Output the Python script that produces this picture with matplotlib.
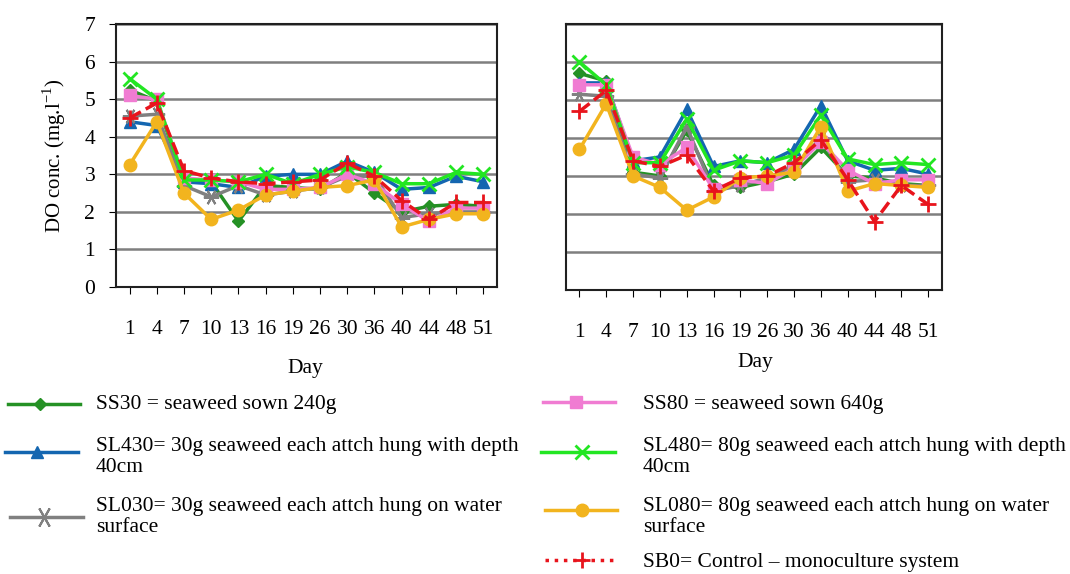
import matplotlib.pyplot as plt
from matplotlib.lines import Line2D

plt.rcParams['font.family'] = ['Liberation Serif', 'DejaVu Serif']
plt.rcParams['mathtext.fontset'] = 'custom'
plt.rcParams['mathtext.rm'] = 'Liberation Serif'

days = ['1', '4', '7', '10', '13', '16', '19', '26', '30', '36', '40', '44', '48', '51']

# left panel
ss30_a = [5.25, 4.95, 2.8, 2.8, 1.75, 2.7, 2.65, 2.6, 3.05, 2.5, 2.0, 2.15, 2.2, 2.15]
sl430_a = [4.4, 4.3, 2.8, 2.75, 2.65, 2.95, 3.0, 3.0, 3.35, 3.05, 2.6, 2.65, 2.95, 2.8]
sl030_a = [4.55, 4.6, 2.7, 2.4, 2.7, 2.45, 2.55, 2.65, 2.95, 2.95, 1.85, 1.95, 2.0, 2.0]
ss80_a = [5.1, 5.0, 2.9, 2.85, 2.8, 2.6, 2.6, 2.65, 3.0, 2.75, 2.2, 1.75, 2.1, 2.1]
sl480_a = [5.55, 5.0, 2.85, 2.85, 2.8, 3.0, 2.75, 3.0, 3.2, 3.05, 2.75, 2.75, 3.05, 3.0]
sl080_a = [3.25, 4.4, 2.5, 1.8, 2.05, 2.45, 2.55, 2.65, 2.7, 2.85, 1.6, 1.8, 1.95, 1.95]
sb0_a = [4.5, 4.9, 3.1, 2.9, 2.8, 2.75, 2.8, 2.85, 3.3, 2.95, 2.3, 1.8, 2.25, 2.25]

# right panel
ss30_b = [5.7, 5.5, 3.1, 3.0, 4.2, 2.75, 2.7, 2.85, 3.05, 3.75, 3.0, 2.95, 2.8, 2.75]
sl430_b = [5.45, 5.45, 3.4, 3.5, 4.75, 3.25, 3.4, 3.35, 3.7, 4.85, 3.4, 3.15, 3.2, 3.05]
sl030_b = [5.15, 5.1, 3.05, 2.95, 4.3, 2.6, 2.75, 2.95, 3.25, 4.0, 2.85, 2.9, 2.75, 2.75]
ss80_b = [5.4, 5.4, 3.5, 3.3, 3.75, 2.65, 2.9, 2.8, 3.2, 3.9, 3.15, 2.8, 2.9, 2.9]
sl480_b = [6.0, 5.4, 3.35, 3.35, 4.5, 3.15, 3.4, 3.35, 3.55, 4.6, 3.45, 3.3, 3.35, 3.3]
sl080_b = [3.7, 4.9, 3.0, 2.7, 2.1, 2.45, 2.95, 3.0, 3.1, 4.3, 2.6, 2.8, 2.75, 2.7]
sb0_b = [4.7, 5.25, 3.4, 3.25, 3.55, 2.6, 2.95, 3.0, 3.35, 3.95, 2.9, 1.8, 2.75, 2.25]

star = (6, 2, 90)
styles = [
    dict(color='#259125', marker='D', ms=6, ls='-'),
    dict(color='#1466b0', marker='^', ms=9, ls='-'),
    dict(color='#808080', marker=star, ms=11, ls='-', mew=1.5),
    dict(color='#f07cd2', marker='s', ms=8, ls='-'),
    dict(color='#22e622', marker='x', ms=10, ls='-', mew=2),
    dict(color='#f2b41e', marker='o', ms=9, ls='-'),
    dict(color='#e8141c', marker='+', ms=12, ls='--', mew=2),
]
labels = [
    'SS30 = seaweed sown 240g',
    'SL430= 30g seaweed each attch hung with depth\n40cm',
    'SL030= 30g seaweed each attch hung on water\nsurface',
    'SS80 = seaweed sown 640g',
    'SL480= 80g seaweed each attch hung with depth\n40cm',
    'SL080= 80g seaweed each attch hung on water\nsurface',
    'SB0= Control \u2013 monoculture system',
]

fig = plt.figure(figsize=(10.7, 5.74), dpi=100)
ax1 = fig.add_axes([0.1084, 0.5, 0.356, 0.458])
ax2 = fig.add_axes([0.529, 0.4948, 0.351, 0.4634])

x = list(range(len(days)))
for ax, data in [(ax1, [ss30_a, sl430_a, sl030_a, ss80_a, sl480_a, sl080_a, sb0_a]),
                 (ax2, [ss30_b, sl430_b, sl030_b, ss80_b, sl480_b, sl080_b, sb0_b])]:
    for vals, st in zip(data, styles):
        ax.plot(x, vals, lw=2.5, **st)
    ax.set_xlim(-0.5, 13.5)
    ax.set_ylim(0, 7)
    ax.set_yticks(range(8))
    ax.set_xticks(x)
    ax.set_xticklabels(days, fontsize=15.5)
    ax.tick_params(axis='x', length=5, pad=19, direction='out')
    ax.tick_params(axis='y', length=5, labelsize=15.5, pad=10)
    ax.grid(axis='y', color='#7f7f7f', lw=1.8)
    ax.set_axisbelow(True)
    for s in ax.spines.values():
        s.set_color('#202020')
        s.set_linewidth(1.5)

ax2.tick_params(axis='y', labelleft=False, length=0)
ax1.set_ylabel('DO conc. (mg.l$^{\\mathregular{-1}}$)', fontsize=15, labelpad=12)

fig.text(305 / 1070, 1 - 368 / 574, 'Day', fontsize=15.5, ha='center', va='center')
fig.text(755 / 1070, 1 - 363 / 574, 'Day', fontsize=15.5, ha='center', va='center')

# legend drawn by hand, two columns (pixel positions)
W, H = 1070, 574
handles = [(8, 80, 40, 404), (5, 78, 37, 452), (10, 83, 44, 517),
           (543, 615, 576, 402), (541, 615, 582, 452), (545, 617, 582, 510),
           (545, 617, 582, 560)]
text_pos = [(96, 404), (96, 457), (96, 517), (643, 404), (643, 457), (643, 517), (643, 563)]
for (hx0, hx1, mx, hy), (tx, ty), st, lab in zip(handles, text_pos, styles, labels):
    ls = ':' if st['ls'] == '--' else '-'
    fig.add_artist(Line2D([hx0 / W, hx1 / W], [1 - hy / H, 1 - hy / H],
                          color=st['color'], lw=2.5, ls=ls, transform=fig.transFigure))
    mk = {k: v for k, v in st.items() if k != 'ls'}
    if st['marker'] == star:
        mk['ms'] = 15
    fig.add_artist(Line2D([mx / W], [1 - hy / H], lw=0, transform=fig.transFigure, **mk))
    fig.text(tx / W, 1 - ty / H, lab, fontsize=15.5, ha='left', va='center', linespacing=1.12)

fig.savefig('out.png', dpi=100)
